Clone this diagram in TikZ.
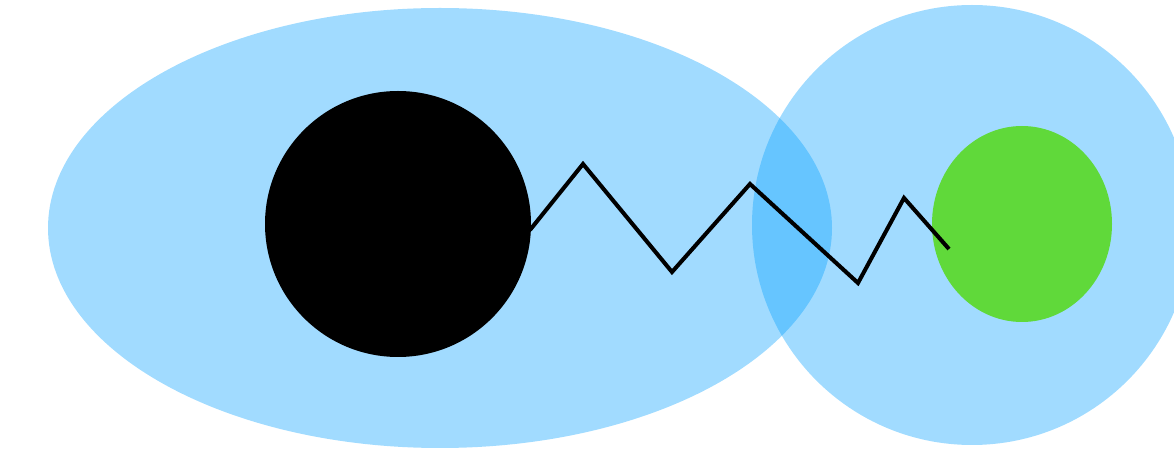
\documentclass[tikz,border=0pt]{standalone}
\usepackage{tikz}
\usetikzlibrary{calc,positioning}
\definecolor{cloudblue}{RGB}{0,158,255}
\definecolor{leafgreen}{RGB}{96,217,58}
\tikzset{>=latex}
\tikzset{cloud/.style={fill=cloudblue, fill opacity=0.37, draw=none}}
\tikzset{spring/.style={line width=2.3pt, line join=miter, draw=black}}

\begin{document}
\begin{tikzpicture}[x=0.02cm, y=-0.02cm]
          \useasboundingbox (0,0) rectangle (1174,452);
          \clip (0,0) rectangle (1174,452);
          % the two clouds
          \fill[cloud] (440,228) ellipse [x radius=392, y radius=220];
          \fill[cloud] (972,225) circle [radius=220];
          % the two bodies
          \fill[black] (398,224) circle [radius=133];
          \fill[leafgreen] (1022,224) ellipse [x radius=90, y radius=98];
          \coordinate (start) at (530,230);
          \coordinate (stop) at (949,249);
          \draw[spring] (start) -- (583,164) -- (672,272) -- (750,184)
            -- (858,283) -- (904,198) -- (stop);
        \end{tikzpicture}
\end{document}
